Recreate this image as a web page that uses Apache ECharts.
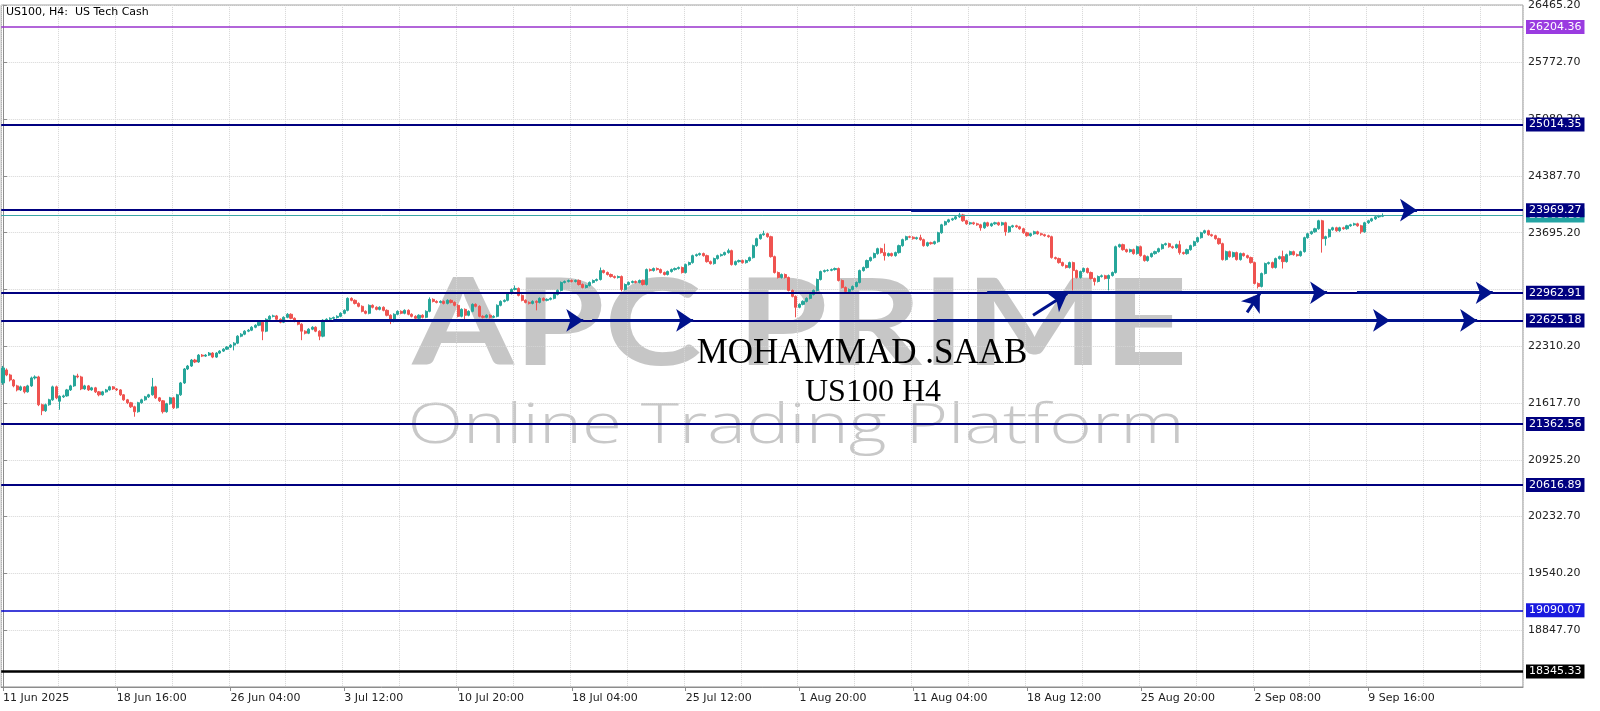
<!DOCTYPE html>
<html><head><meta charset="utf-8">
<script src="https://cdn.jsdelivr.net/npm/echarts@6/dist/echarts.min.js"></script>
<style>html,body{margin:0;padding:0;background:#fff}#c{width:1600px;height:711px}</style>
</head><body><div id="c"></div>
<script>
// ---------- DATA ----------
const tickLabels = ['11 Jun 2025','18 Jun 16:00','26 Jun 04:00','3 Jul 12:00','10 Jul 20:00','18 Jul 04:00','25 Jul 12:00','1 Aug 20:00','11 Aug 04:00','18 Aug 12:00','25 Aug 20:00','2 Sep 08:00','9 Sep 16:00'];
const yTickLabels = ['18847.70','19540.20','20232.70','20925.20','21617.70','22310.20','23695.20','24387.70','25080.20','25772.70','26465.20'];

// H4 candles: [open, close, low, high]
const junBars = [
[21863,22045,21840,22070],[22021,21960,21945,22040],[21960,21899,21880,21975],[21899,21827,21810,21910],[21827,21778,21760,21840],[21778,21815,21765,21830],
[21815,21754,21735,21825],[21754,21827,21745,21840],[21827,21924,21815,21940],[21924,21936,21905,21955],[21936,21597,21580,21950],[21597,21524,21470,21610],
[21524,21597,21510,21610],[21597,21657,21585,21670],[21657,21815,21645,21830],[21815,21681,21665,21830],[21640,21700,21536,21712],[21693,21705,21680,21720],
[21705,21778,21695,21790],[21778,21827,21765,21840],[21827,21948,21815,21962],[21948,21936,21920,21975],[21936,21790,21775,21950],[21790,21827,21780,21840],
[21827,21778,21765,21838],[21778,21803,21768,21815],[21803,21754,21740,21815],[21754,21718,21700,21765],[21718,21754,21708,21766],[21754,21778,21745,21790],
[21778,21815,21770,21828],[21815,21790,21778,21825],[21790,21778,21765,21800],[21778,21718,21705,21788],[21718,21657,21645,21728],[21657,21621,21605,21668],
[21621,21572,21558,21632],[21572,21512,21451,21585],[21512,21621,21500,21633],[21621,21657,21610,21670],[21657,21693,21645,21705],[21693,21718,21680,21730],
[21718,21815,21708,21924],[21815,21681,21668,21828],[21681,21645,21630,21692],[21645,21512,21490,21655],[21512,21609,21500,21620],[21609,21681,21598,21693],
[21681,21560,21545,21693],[21560,21718,21550,21730],[21718,21863,21705,21875],[21863,22033,21850,22045],[22033,22069,22020,22082],[22069,22142,22058,22155],
[22142,22118,22105,22156],[22118,22202,22108,22215],[22202,22190,22178,22215],[22190,22202,22180,22214],[22202,22227,22192,22240],[22227,22178,22165,22238],
[22178,22227,22168,22238],[22227,22251,22215,22262],[22251,22275,22240,22286],[22275,22300,22265,22312],[22300,22324,22288,22336],[22324,22348,22260,22360],
[22348,22433,22336,22445],[22433,22457,22420,22470],[22457,22494,22445,22506],[22494,22506,22482,22520],[22506,22542,22495,22555],[22542,22566,22530,22578],
[22566,22603,22555,22615],[22603,22494,22384,22615],[22494,22639,22482,22651],[22639,22675,22628,22688],[22675,22680,22662,22695],[22680,22639,22627,22692],
[22639,22603,22590,22650],[22603,22663,22592,22675],[22663,22700,22652,22714]
];
const julBars = [
[22700,22651,22640,22712],[22651,22615,22603,22662],[22615,22579,22566,22626],[22579,22494,22384,22590],[22494,22469,22455,22505],[22469,22518,22458,22530],
[22518,22542,22506,22555],[22542,22494,22482,22553],[22494,22433,22384,22505],[22433,22627,22420,22640],[22627,22639,22615,22651],[22639,22651,22628,22663],
[22651,22660,22640,22672],[22660,22675,22648,22688],[22675,22712,22664,22724],[22712,22748,22700,22760],[22748,22894,22736,22906],[22894,22870,22858,22906],
[22870,22833,22820,22882],[22833,22797,22785,22845],[22797,22736,22724,22809],[22736,22712,22700,22748],[22712,22809,22700,22821],[22809,22785,22772,22821],
[22785,22760,22748,22797],[22760,22785,22748,22797],[22785,22748,22736,22797],[22748,22688,22675,22760],[22688,22615,22580,22700],[22615,22700,22603,22712],
[22700,22736,22688,22748],[22736,22712,22700,22748],[22712,22748,22700,22760],[22748,22700,22688,22760],[22700,22675,22662,22712],[22675,22651,22638,22688],
[22651,22688,22640,22700],[22688,22663,22650,22700],[22663,22736,22652,22748],[22736,22882,22724,22906],[22882,22857,22845,22894],[22857,22845,22833,22870],
[22845,22857,22833,22870],[22857,22833,22820,22870],[22833,22870,22821,22882],[22870,22845,22833,22882],[22845,22809,22797,22857],[22809,22675,22663,22821],
[22675,22760,22663,22772],[22760,22688,22640,22772],[22688,22736,22676,22748],[22736,22821,22724,22833],[22821,22797,22785,22833],[22797,22675,22663,22809],
[22675,22663,22650,22688],[22663,22688,22652,22700],[22688,22663,22650,22700],[22663,22675,22652,22688],[22675,22809,22663,22821],[22809,22857,22797,22870],
[22857,22870,22845,22882],[22870,22954,22858,22966],[22954,23003,22942,23015],[23003,23015,22991,23051],[23015,22930,22918,23027],[22930,22870,22858,22942],
[22870,22845,22833,22882],[22845,22833,22820,22857],[22833,22857,22821,22870],[22857,22845,22748,22870],[22845,22894,22833,22906],[22894,22870,22858,22906],
[22870,22882,22858,22894],[22882,22894,22870,22906],[22894,22942,22882,22954],[22942,22991,22930,23003],[22991,23088,22979,23100],[23088,23100,23076,23112],
[23100,23112,23088,23124],[23112,23100,23088,23124],[23100,23112,23088,23124],[23112,23063,23051,23124],[23063,23027,23015,23076],[23027,23051,23015,23063],
[23051,23088,23039,23100],[23088,23112,23076,23124],[23112,23124,23100,23136],[23124,23233,23112,23270],[23233,23209,23197,23245],[23209,23185,23173,23221],
[23185,23160,23148,23197],[23160,23148,23136,23173],[23148,23160,23136,23173],[23160,23003,22979,23173],[23003,23063,22991,23076],[23063,23088,23051,23100],
[23088,23100,23076,23112],[23100,23088,23076,23112],[23088,23112,23076,23124],[23112,23063,23051,23124],[23063,23245,23051,23258],[23245,23233,23221,23258],
[23233,23258,23221,23270],[23258,23245,23233,23270],[23245,23209,23197,23258],[23209,23185,23173,23221],[23185,23221,23173,23233],[23221,23245,23209,23258],
[23245,23258,23233,23270],[23258,23270,23245,23282],[23270,23209,23197,23282],[23209,23306,23197,23318],[23306,23330,23294,23342],[23330,23415,23318,23427],
[23415,23427,23403,23440],[23427,23440,23415,23452],[23440,23415,23403,23452],[23415,23342,23330,23427],[23342,23318,23306,23355],[23318,23379,23306,23391],
[23379,23415,23367,23427],[23415,23427,23403,23440],[23427,23452,23415,23464],[23452,23476,23440,23500],[23476,23306,23294,23488],[23306,23342,23294,23355],
[23342,23355,23330,23367],[23355,23330,23318,23367],[23330,23355,23318,23367],[23355,23391,23342,23403],[23391,23537,23379,23549],[23537,23622,23524,23634],
[23622,23670,23610,23682],[23670,23682,23658,23719],[23682,23646,23634,23694],[23646,23403,23391,23658],[23403,23209,23197,23415],[23209,23148,23136,23221]
];
const augBars = [
[23148,23185,23136,23197],[23185,23148,23136,23197],[23148,22991,22979,23160],[22991,22918,22906,23003],[22918,22785,22663,22930],[22785,22821,22773,22833],
[22821,22857,22809,22870],[22857,22894,22845,22906],[22894,22942,22882,22954],[22942,22991,22930,23003],[22991,23124,22979,23136],[23124,23221,23112,23233],
[23221,23233,23209,23245],[23233,23236,23221,23250],[23236,23245,23225,23258],[23245,23258,23233,23270],[23258,23112,23100,23270],[23112,23027,23015,23124],
[23027,22979,22967,23039],[22979,23003,22967,23015],[23003,23039,22991,23051],[23039,23088,23027,23100],[23088,23233,23076,23245],[23233,23270,23221,23282],
[23270,23355,23258,23367],[23355,23391,23342,23403],[23391,23440,23379,23452],[23440,23500,23427,23512],[23500,23452,23440,23512],[23452,23415,23355,23561],
[23415,23440,23403,23452],[23440,23415,23403,23452],[23415,23452,23403,23464],[23452,23537,23440,23549],[23537,23610,23524,23622],[23610,23646,23597,23658],
[23646,23640,23628,23658],[23640,23622,23610,23652],[23622,23634,23610,23646],[23634,23610,23597,23670],[23610,23537,23524,23622],[23537,23573,23524,23585],
[23573,23561,23549,23585],[23561,23585,23549,23597],[23585,23694,23573,23706],[23694,23791,23682,23803],[23791,23828,23779,23840],[23828,23852,23816,23864],
[23852,23864,23840,23876],[23864,23888,23852,23900],[23888,23912,23876,23937],[23912,23840,23828,23925],[23840,23803,23791,23852],[23803,23816,23791,23828],
[23816,23803,23791,23828],[23803,23791,23779,23816],[23791,23755,23719,23803],[23755,23816,23743,23828],[23816,23779,23767,23828],[23779,23803,23767,23816],
[23803,23816,23791,23828],[23816,23791,23779,23828],[23791,23816,23779,23828],[23816,23706,23658,23828],[23706,23767,23694,23779],[23767,23779,23755,23791],
[23779,23767,23755,23791],[23767,23743,23731,23779],[23743,23694,23682,23755],[23694,23658,23646,23706],[23658,23682,23646,23694],[23682,23706,23670,23719],
[23706,23682,23670,23719],[23682,23670,23658,23694],[23670,23658,23646,23682],[23658,23646,23634,23670],[23646,23391,23379,23658],[23391,23379,23367,23403],
[23379,23330,23318,23391],[23330,23294,23282,23342],[23294,23270,23258,23306],[23270,23330,23258,23342],[23330,23233,22991,23342],[23233,23148,23136,23245],
[23148,23221,23136,23233],[23221,23258,23209,23270],[23258,23209,23197,23270],[23209,23136,23124,23221],[23136,23100,23051,23148],[23100,23160,23088,23173],
[23160,23170,23148,23185],[23170,23136,23124,23182],[23136,23173,22991,23185],[23173,23209,23160,23221],[23209,23524,23197,23537],[23524,23549,23512,23561],
[23549,23488,23476,23561],[23488,23464,23452,23500],[23464,23488,23452,23500],[23488,23440,23427,23500],[23440,23524,23427,23537],[23524,23415,23403,23537],
[23415,23355,23342,23427],[23355,23403,23342,23415],[23403,23440,23391,23452],[23440,23464,23427,23476],[23464,23500,23452,23512],[23500,23549,23488,23561],
[23549,23561,23537,23573],[23561,23524,23512,23573],[23524,23512,23500,23537],[23512,23549,23500,23561],[23549,23452,23427,23597],[23452,23440,23427,23464],
[23440,23488,23427,23500],[23488,23537,23476,23549],[23537,23585,23524,23597],[23585,23634,23573,23646],[23634,23694,23622,23706],[23694,23719,23682,23731],
[23719,23670,23658,23731],[23670,23658,23646,23682],[23658,23622,23610,23670],[23622,23561,23549,23634],[23561,23367,23355,23573],[23367,23464,23355,23476],
[23464,23403,23391,23476],[23403,23452,23391,23464],[23452,23367,23355,23464],[23367,23440,23355,23452]
];
const sepBars = [
[23440,23415,23403,23452],[23415,23391,23379,23427],[23391,23330,23318,23403],[23330,23076,23064,23342],[23076,23039,23015,23088],[23039,23197,23027,23209],
[23197,23318,23185,23330],[23318,23330,23306,23342],[23330,23270,23258,23342],[23270,23379,23258,23391],[23379,23403,23367,23415],[23403,23342,23258,23476],
[23342,23427,23330,23440],[23427,23464,23415,23476],[23464,23427,23415,23476],[23427,23415,23403,23440],[23415,23464,23403,23476],[23464,23634,23452,23646],
[23634,23682,23622,23694],[23682,23706,23670,23719],[23706,23743,23694,23755],[23743,23840,23731,23852],[23840,23622,23452,23852],[23622,23646,23537,23658],
[23646,23731,23634,23743],[23731,23755,23719,23767],[23755,23719,23706,23767],[23719,23755,23706,23767],[23755,23743,23731,23767],[23743,23779,23731,23791],
[23779,23791,23767,23803],[23791,23803,23779,23816],[23803,23779,23767,23816],[23779,23706,23682,23791],[23706,23816,23694,23828],[23816,23840,23803,23852],
[23840,23864,23828,23876],[23864,23888,23852,23900],[23888,23895,23876,23912],[23895,23903,23885,23930]
];

// horizontal price levels drawn on the chart
const levels = [26204.36, 25014.35, 23969.27, 22962.91, 22625.18, 21362.56, 20616.89, 19090.07, 18345.33];
const currentPrice = 23903.10;
// hand-drawn arrows: [[barIndex, price], [barIndex, price]]
const arrowSegs = [
  [[255.4, 23969.27], [397.7, 23969.27]],
  [[276.8, 22962.91], [372.4, 22962.91]],
  [[380.8, 22962.91], [419.0, 22962.91]],
  [[289.7, 22688], [299.3, 22954]],
  [[349.9, 22724], [353.5, 22954]],
  [[92.9, 22625.18], [163.2, 22625.18]],
  [[165.7, 22625.18], [194.1, 22625.18]],
  [[262.7, 22625.18], [390.1, 22625.18]],
  [[370.4, 22625.18], [414.6, 22625.18]]
];
const totalSlots = 428;

// ---------- BUILD ----------
const candles = [].concat(junBars, julBars, augBars, sepBars);
const categories = Array.from({length: totalSlots}, (_, i) => String(i));
const FONT = 'DejaVu Sans';

const levelStyle = {
  '26204.36': {c: '#9932cc', bg: '#9a3be0', w: 1.5},
  '25014.35': {c: '#000080', bg: '#000080', w: 2},
  '23969.27': {c: '#000080', bg: '#000080', w: 2},
  '22962.91': {c: '#000080', bg: '#000080', w: 2},
  '22625.18': {c: '#000080', bg: '#000080', w: 2},
  '21362.56': {c: '#000080', bg: '#000080', w: 2},
  '20616.89': {c: '#000080', bg: '#000080', w: 2},
  '19090.07': {c: '#0000cd', bg: '#1a1adf', w: 1.5},
  '18345.33': {c: '#000000', bg: '#000000', w: 2.5}
};
function boxLabel(text, bg) {
  return {show: true, position: 'end', distance: 3, formatter: text, color: '#ffffff',
    backgroundColor: bg, padding: [2, 3, 1, 3], fontSize: 11, fontFamily: FONT};
}
const levelLines = [{
  yAxis: currentPrice,
  lineStyle: {color: '#3aa6a6', width: 1, type: 'solid'},
  label: boxLabel(currentPrice.toFixed(2), '#23a3a3')
}].concat(levels.map(v => {
  const s = levelStyle[v.toFixed(2)];
  return {yAxis: v, lineStyle: {color: s.c, width: s.w, type: 'solid'}, label: boxLabel(v.toFixed(2), s.bg)};
}));
const arrowLines = arrowSegs.map(seg => [{coord: seg[0]}, {coord: seg[1]}]);

const chart = echarts.init(document.getElementById('c'), null, {renderer: 'canvas'});
chart.setOption({
  animation: false,
  backgroundColor: '#ffffff',
  grid: {left: 1, right: 77, top: 3, bottom: 24, show: true, borderColor: '#8c8c8c', borderWidth: 1},
  xAxis: [{
    type: 'category', data: categories, boundaryGap: true,
    axisLine: {show: true, lineStyle: {color: '#8c8c8c', width: 1}},
    axisTick: {show: true, alignWithLabel: true, length: 4, lineStyle: {color: '#8c8c8c'},
      interval: (i) => i % 32 === 0 && i / 32 < tickLabels.length},
    axisLabel: {show: true, interval: (i) => i % 32 === 0 && i / 32 < tickLabels.length,
      formatter: (v, i) => tickLabels[i / 32] || '', align: 'left', color: '#222',
      fontSize: 11, fontFamily: FONT, margin: 6},
    splitLine: {show: true, interval: (i) => i % 16 === 0, lineStyle: {color: '#d6d6d6', type: 'dotted', width: 1}}
  }, {
    type: 'value', min: -0.5, max: totalSlots - 0.5, show: false
  }],
  yAxis: {
    type: 'value', position: 'right', min: 18155.2, max: 26469.9, interval: 692.5,
    axisLine: {show: true, lineStyle: {color: '#8c8c8c'}},
    axisTick: {show: true, length: 4, lineStyle: {color: '#8c8c8c'}},
    axisLabel: {formatter: (v) => yTickLabels.includes(v.toFixed(2)) ? v.toFixed(2) : '',
      color: '#222', fontSize: 11, fontFamily: FONT, margin: 5},
    splitLine: {show: true, lineStyle: {color: '#d6d6d6', type: 'dotted', width: 1}}
  },
  series: [{
    type: 'candlestick', data: candles, xAxisIndex: 0, yAxisIndex: 0, barWidth: 2.6, z: 3, silent: true,
    itemStyle: {color: '#26a69a', color0: '#ef5350', borderColor: '#26a69a', borderColor0: '#ef5350', borderWidth: 1}
  }, {
    type: 'line', xAxisIndex: 1, yAxisIndex: 0, data: [], z: 4, silent: true,
    markLine: {silent: true, animation: false, symbol: ['none', 'none'], data: levelLines}
  }, {
    type: 'line', xAxisIndex: 1, yAxisIndex: 0, data: [], z: 5, silent: true,
    markLine: {silent: true, animation: false, symbol: ['none', 'arrow'], symbolSize: 17,
      lineStyle: {color: '#00128c', width: 3, type: 'solid'}, label: {show: false}, data: arrowLines}
  }],
  graphic: [
    {type: 'text', x: 6, y: 12, z: 10, style: {text: 'US100, H4:  US Tech Cash', font: '11px "DejaVu Sans"', fill: '#000',
      verticalAlign: 'middle', textVerticalAlign: 'middle'}},
    {type: 'text', x: 800, y: 326, scaleX: 1.22, z: 0, style: {text: 'APC PRIME', font: 'bold 120px Lato', fill: '#c6c6c6',
      align: 'center', verticalAlign: 'middle', textAlign: 'center', textVerticalAlign: 'middle'}},
    {type: 'text', x: 796, y: 427, scaleX: 1.30, z: 0, style: {text: 'Online Trading Platform', font: '300 56px "Open Sans"', fill: '#c8c8c8',
      align: 'center', verticalAlign: 'middle', textAlign: 'center', textVerticalAlign: 'middle'}},
    {type: 'text', x: 862, y: 354, z: 20, style: {text: 'MOHAMMAD .SAAB', font: '35px "Liberation Serif"', fill: '#000',
      align: 'center', verticalAlign: 'middle', textAlign: 'center', textVerticalAlign: 'middle'}},
    {type: 'text', x: 873, y: 393, z: 20, style: {text: 'US100 H4', font: '32px "Liberation Serif"', fill: '#000',
      align: 'center', verticalAlign: 'middle', textAlign: 'center', textVerticalAlign: 'middle'}}
  ]
});
</script>
</body></html>
